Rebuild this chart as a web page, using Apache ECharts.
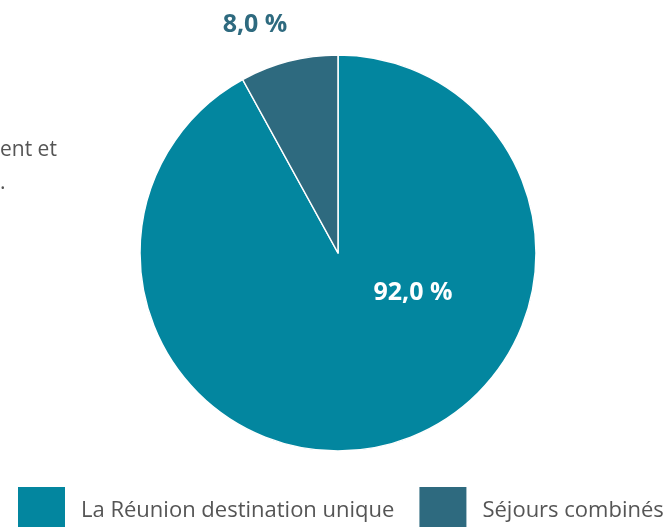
<!DOCTYPE html>
<html>
<head>
<meta charset="utf-8">
<script src="https://cdn.jsdelivr.net/npm/echarts@6/dist/echarts.min.js"></script>
<style>html,body{margin:0;padding:0;background:#fff}#c{width:668px;height:527px}</style>
</head>
<body>
<div id="c"></div>
<script>
const categories = ['La Réunion destination unique', 'Séjours combinés'];
const values = [92.0, 8.0];
const colors = ['#03869f', '#2e6a7f'];

const CX = 338, CY = 253, R = 198;
const fmt = v => v.toFixed(1).replace('.', ',') + ' %';

const chart = echarts.init(document.getElementById('c'), null, {renderer: 'canvas'});
chart.setOption({
  animation: false,
  color: colors,
  legend: {
    data: categories,
    left: 16, top: 485, padding: 0,
    itemWidth: 49, itemHeight: 49, itemGap: 23,
    icon: 'rect',
    textStyle: {fontFamily: 'Open Sans', fontSize: 22, color: '#555555', padding: [0, 0, 0, 10]}
  },
  graphic: [
    {type: 'text', left: 0, top: 140, style: {text: 'ent et', font: '21px "Open Sans"', fill: '#555555', textAlign: 'right', x: 60}},
    {type: 'text', left: 0, top: 173, style: {text: '.', font: '21px "Open Sans"', fill: '#555555'}}
  ],
  series: [{
    type: 'pie',
    center: [CX, CY],
    radius: R,
    startAngle: 90,
    clockwise: true,
    itemStyle: {borderColor: '#ffffff', borderWidth: 1.5},
    labelLine: {show: false},
    data: categories.map((c, i) => ({
      name: c, value: values[i],
      label: i === 0
        ? {show: true, position: 'inside', formatter: p => fmt(p.value), color: '#ffffff', fontFamily: 'Open Sans', fontWeight: 'bold', fontSize: 25}
        : {show: true, position: 'outside', formatter: p => fmt(p.value), color: colors[1], fontFamily: 'Open Sans', fontWeight: 'bold', fontSize: 25}
    })),
    labelLayout: function (p) {
      if (p.dataIndex === 0) return {x: CX + 75, y: CY + 40, align: 'center', verticalAlign: 'middle'};
      return {x: CX - 83, y: 25, align: 'center', verticalAlign: 'middle'};
    }
  }]
});
</script>
</body>
</html>
